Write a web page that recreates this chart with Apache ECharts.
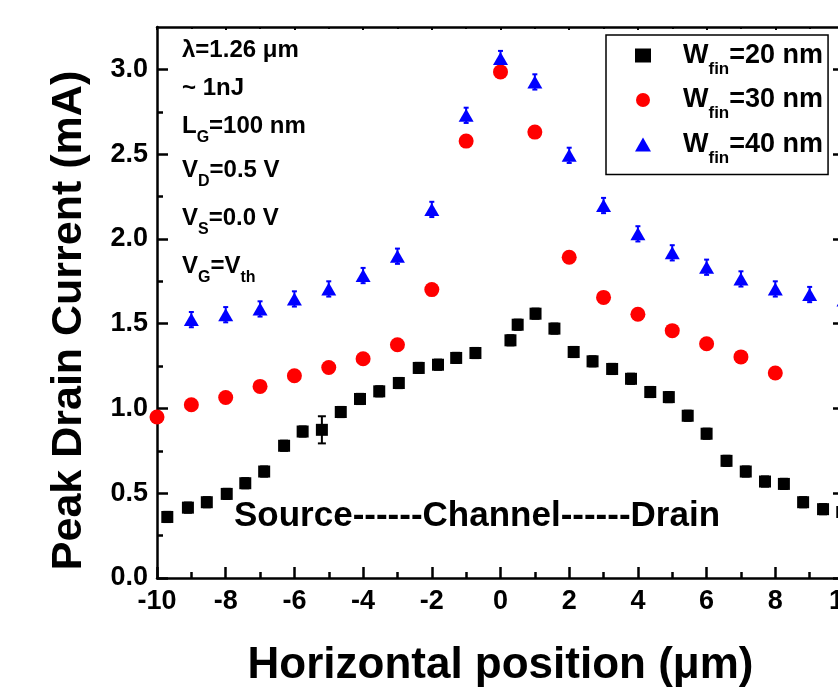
<!DOCTYPE html>
<html lang="en">
<head>
    <meta charset="UTF-8">
    <title>Peak Drain Current</title>
    <script src="https://cdn.jsdelivr.net/npm/echarts@6/dist/echarts.min.js"></script>
    <style>
        html, body { margin: 0; padding: 0; background: #fff; }
        #main { width: 838px; height: 691px; }
    </style>
</head>
<body>
<div id="main"></div>
<script>
    // W_fin = 20 nm (black squares)
    var blackX = [-9.7, -9.1, -8.55, -7.97, -7.43, -6.88, -6.3, -5.76, -5.2, -4.65, -4.09, -3.53, -2.96, -2.38, -1.82, -1.29, -0.73,
        0.29, 0.5, 1.02, 1.57, 2.13, 2.68, 3.25, 3.8, 4.36, 4.9, 5.45, 6.0, 6.58, 7.14, 7.7, 8.25, 8.81, 9.39, 9.95];
    var blackY = [0.36, 0.415, 0.447, 0.496, 0.559, 0.628, 0.78, 0.864, 0.874, 0.979, 1.056, 1.101, 1.15, 1.239, 1.258, 1.298, 1.327,
        1.402, 1.494, 1.559, 1.471, 1.333, 1.278, 1.233, 1.175, 1.097, 1.067, 0.957, 0.851, 0.691, 0.628, 0.569, 0.555, 0.447, 0.406, 0.39];
    var blackErr = [0.03, 0.03, 0.03, 0.03, 0.03, 0.03, 0.03, 0.03, 0.08, 0.03, 0.03, 0.03, 0.03, 0.03, 0.03, 0.03, 0.03,
        0.03, 0.03, 0.03, 0.03, 0.03, 0.03, 0.03, 0.03, 0.03, 0.03, 0.03, 0.03, 0.03, 0.03, 0.03, 0.03, 0.03, 0.03, 0.03];

    // W_fin = 30 nm (red circles)
    var redX = [-10, -9, -8, -7, -6, -5, -4, -3, -2, -1, 0, 1, 2, 3, 4, 5, 6, 7, 8];
    var redY = [0.95, 1.022, 1.065, 1.13, 1.193, 1.242, 1.293, 1.376, 1.701, 2.577, 2.985, 2.63, 1.892, 1.655, 1.556, 1.459, 1.382, 1.304, 1.209];

    // W_fin = 40 nm (blue triangles)
    var blueX = [-9, -8, -7, -6, -5, -4, -3, -2, -1, 0, 1, 2, 3, 4, 5, 6, 7, 8, 9, 10];
    var blueY = [1.524, 1.553, 1.587, 1.646, 1.705, 1.784, 1.898, 2.174, 2.729, 3.064, 2.926, 2.493, 2.197, 2.03, 1.918, 1.833, 1.764, 1.705, 1.672, 1.64];
    var blueErr = [0.045, 0.045, 0.045, 0.045, 0.045, 0.045, 0.045, 0.045, 0.045, 0.045, 0.045, 0.045, 0.045, 0.045, 0.045, 0.045, 0.045, 0.045, 0.045, 0.045];

    var seriesNames = ['Wfin=20 nm', 'Wfin=30 nm', 'Wfin=40 nm'];
    var yMajor = [0, 0.5, 1.0, 1.5, 2.0, 2.5, 3.0];
    var yMinor = [0.25, 0.75, 1.25, 1.75, 2.25, 2.75];

    var FONT = '"Liberation Sans", Arial, sans-serif';

    function pairs(xs, ys, es) {
        var out = [];
        for (var i = 0; i < xs.length; i++) {
            out.push(es ? [xs[i], ys[i], es[i]] : [xs[i], ys[i]]);
        }
        return out;
    }

    function errBars(color, capW) {
        return function (params, api) {
            var x = api.value(0), y = api.value(1), e = api.value(2);
            var top = api.coord([x, y + e]);
            var bot = api.coord([x, y - e]);
            var st = { stroke: color, lineWidth: 2 };
            return {
                type: 'group',
                children: [
                    { type: 'line', shape: { x1: top[0], y1: top[1], x2: bot[0], y2: bot[1] }, style: st },
                    { type: 'line', shape: { x1: top[0] - capW / 2, y1: top[1], x2: top[0] + capW / 2, y2: top[1] }, style: st },
                    { type: 'line', shape: { x1: bot[0] - capW / 2, y1: bot[1], x2: bot[0] + capW / 2, y2: bot[1] }, style: st }
                ]
            };
        };
    }

    var axisLine = { show: true, onZero: false, lineStyle: { color: '#000', width: 2.5 } };

    var subRich = {
        m: { fontSize: 24, fontWeight: 'bold', fontFamily: FONT, color: '#000', lineHeight: 40 },
        s: { fontSize: 16, fontWeight: 'bold', fontFamily: FONT, color: '#000', lineHeight: 8, verticalAlign: 'bottom' }
    };
    var notes = [
        ['{m|λ=1.26 μm}', 50],
        ['{m|~ 1nJ}', 88],
        ['{m|L}{s|G}{m|=100 nm}', 126],
        ['{m|V}{s|D}{m|=0.5 V}', 170],
        ['{m|V}{s|S}{m|=0.0 V}', 218],
        ['{m|V}{s|G}{m|=V}{s|th}', 266]
    ];
    var graphics = notes.map(function (n) {
        return {
            type: 'text', x: 182, y: n[1], z: 10,
            style: { text: n[0], rich: subRich, verticalAlign: 'middle', align: 'left' }
        };
    });
    graphics.push({
        type: 'text', x: 477, y: 516, z: 10,
        style: {
            text: 'Source------Channel------Drain', fontSize: 35, fontWeight: 'bold',
            fontFamily: FONT, fill: '#000', align: 'center', verticalAlign: 'middle'
        }
    });

    var chart = echarts.init(document.getElementById('main'));
    var option = {
        backgroundColor: '#fff',
        animation: false,
        grid: { left: 157, right: -6, top: 27, bottom: 113, containLabel: false, outerBoundsMode: 'none' },
        legend: {
            data: seriesNames,
            orient: 'vertical',
            left: 606,
            top: 35,
            padding: [7, 5, 8, 29],
            borderColor: '#000',
            borderWidth: 1.5,
            itemWidth: 16,
            itemHeight: 14,
            itemGap: 9,
            formatter: function (name) {
                return '{p| }{a|W}{b|fin}{a|' + name.slice(4) + '}';
            },
            textStyle: {
                rich: {
                    p: { width: 27, fontSize: 10, lineHeight: 10 },
                    a: { fontSize: 27, fontWeight: 'bold', fontFamily: FONT, color: '#000', lineHeight: 44 },
                    b: { fontSize: 17, fontWeight: 'bold', fontFamily: FONT, color: '#000', lineHeight: 20, verticalAlign: 'bottom' }
                }
            }
        },
        xAxis: [{
            type: 'value', position: 'bottom', min: -10, max: 10, interval: 2,
            axisLine: axisLine,
            axisTick: { inside: true, length: 11, lineStyle: { color: '#000', width: 2.5 } },
            minorTick: { show: true, splitNumber: 2, length: 6, lineStyle: { color: '#000', width: 2.5 } },
            axisLabel: { fontSize: 27, fontWeight: 'bold', fontFamily: FONT, color: '#000', margin: 10 },
            splitLine: { show: false },
            name: 'Horizontal position (μm)', nameLocation: 'middle', nameGap: 66,
            nameTextStyle: { fontSize: 44, fontWeight: 'bold', fontFamily: FONT, color: '#000' }
        }, {
            type: 'value', position: 'top', min: -10, max: 10, interval: 2,
            axisLine: axisLine,
            axisTick: { inside: true, length: 3, lineStyle: { color: '#000', width: 2 } },
            minorTick: { show: true, splitNumber: 2, length: 2, lineStyle: { color: '#000', width: 2 } },
            axisLabel: { show: false }, splitLine: { show: false }
        }],
        yAxis: [{
            type: 'value', position: 'left', min: 0, max: 3.25,
            axisLine: axisLine,
            axisTick: { inside: true, length: 11, customValues: yMajor, lineStyle: { color: '#000', width: 2.5 } },
            axisLabel: {
                customValues: yMajor, formatter: function (v) { return v.toFixed(1); },
                fontSize: 27, fontWeight: 'bold', fontFamily: FONT, color: '#000', margin: 9
            },
            splitLine: { show: false },
            name: 'Peak Drain Current (mA)', nameLocation: 'middle', nameGap: 66,
            nameTextStyle: { fontSize: 43, fontWeight: 'bold', fontFamily: FONT, color: '#000', padding: [0, 36, 0, 0] }
        }, {
            type: 'value', position: 'left', min: 0, max: 3.25,
            axisLine: { show: false, onZero: false },
            axisTick: { inside: true, length: 6, customValues: yMinor, lineStyle: { color: '#000', width: 2.5 } },
            axisLabel: { show: false }, splitLine: { show: false }
        }, {
            type: 'value', position: 'right', min: 0, max: 3.25,
            axisLine: axisLine,
            axisTick: { inside: true, length: 11, customValues: yMajor, lineStyle: { color: '#000', width: 2.5 } },
            axisLabel: { show: false }, splitLine: { show: false }
        }, {
            type: 'value', position: 'right', min: 0, max: 3.25,
            axisLine: { show: false, onZero: false },
            axisTick: { inside: true, length: 6, customValues: yMinor, lineStyle: { color: '#000', width: 2.5 } },
            axisLabel: { show: false }, splitLine: { show: false }
        }],
        graphic: graphics,
        series: [{
            type: 'custom', name: 'err20', coordinateSystem: 'cartesian2d',
            renderItem: errBars('#000', 8), data: pairs(blackX, blackY, blackErr), z: 3
        }, {
            type: 'custom', name: 'err40', coordinateSystem: 'cartesian2d',
            renderItem: errBars('#0000ff', 5), data: pairs(blueX, blueY, blueErr), z: 3
        }, {
            name: seriesNames[0], type: 'scatter', symbol: 'rect', symbolSize: 12,
            itemStyle: { color: '#000', opacity: 1 }, data: pairs(blackX, blackY), z: 4
        }, {
            name: seriesNames[1], type: 'scatter', symbol: 'circle', symbolSize: 15,
            itemStyle: { color: '#ff0000', opacity: 1 }, data: pairs(redX, redY), z: 4
        }, {
            name: seriesNames[2], type: 'scatter', symbol: 'triangle', symbolSize: [15, 13],
            itemStyle: { color: '#0000ff', opacity: 1 }, data: pairs(blueX, blueY), z: 4
        }]
    };
    chart.setOption(option);
</script>
</body>
</html>
